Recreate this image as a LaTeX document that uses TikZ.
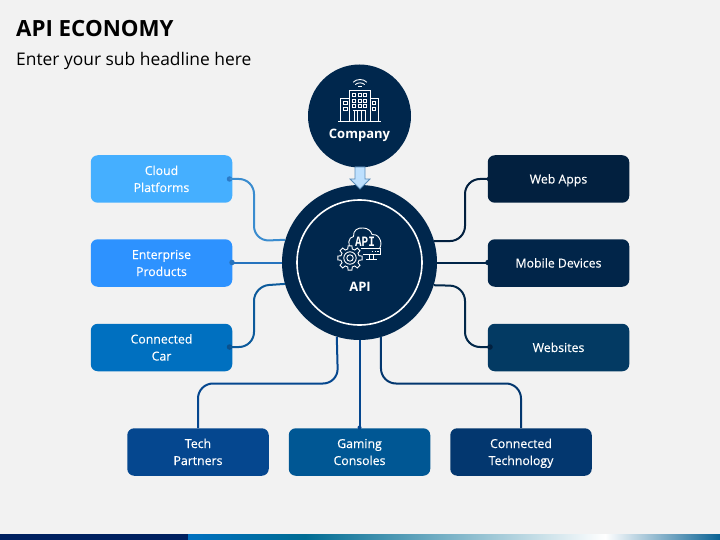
\documentclass[tikz,border=0pt]{standalone}
\usepackage{fontspec}
\setmainfont{Open Sans}
\newfontfamily\monoic{Liberation Mono}
\usetikzlibrary{arrows.meta}
\definecolor{pagebg}{HTML}{F2F2F2}
\definecolor{navy}{HTML}{00274D}
\definecolor{cCloud}{HTML}{45AFFF}
\definecolor{cEnt}{HTML}{2D92FF}
\definecolor{cCar}{HTML}{0070C0}
\definecolor{cTech}{HTML}{05478F}
\definecolor{cGame}{HTML}{005794}
\definecolor{cCT}{HTML}{03376F}
\definecolor{cWeb}{HTML}{02203F}
\definecolor{cMob}{HTML}{012549}
\definecolor{cSite}{HTML}{033A63}
\newcommand{\ls}[1]{\rule{0pt}{12pt}\rule[-3pt]{0pt}{3pt}#1}
\tikzset{
  lab/.style={rounded corners=7pt,minimum width=141.5pt,minimum height=47.5pt,inner sep=0pt,align=center,text=white,font=\fontsize{12.3}{17}\selectfont\addfontfeature{FakeBold=0.35}},
  conn/.style={line width=2pt,rounded corners=15pt},
  dotn/.style={circle,inner sep=0pt,minimum size=5.5pt},
  ico/.style={draw=white,line width=0.9pt},
  win/.style={draw=white,line width=0.7pt},
}
\begin{document}
\begin{tikzpicture}[x=1pt,y=-1pt]
\useasboundingbox (0,0) rectangle (720,540);
\fill[pagebg] (0,0) rectangle (720,540);
% footer
\fill[color={rgb,255:red,0;green,32;blue,96}] (0,534) rectangle (188,540);
\shade[left color=cCar,right color={rgb:red,0;green,176;blue,240}] (188,534) rectangle (305,540);
\shade[left color={rgb:red,0;green,176;blue,240},right color=white] (305,534) rectangle (605,540);
\shade[left color=white,right color={rgb:red,14;green,143;blue,216}] (605,534) rectangle (720,540);
% titles
\node[anchor=west,inner sep=0pt,font=\fontsize{22.3}{26}\selectfont\bfseries,text=black] (title) at (16,29) {API ECONOMY};
\node[anchor=west,inner sep=0pt,font=\fontsize{17.4}{21}\selectfont,text=black] (sub) at (16,61) {Enter your sub headline here};
% circles
\node[circle,fill=navy,minimum size=155pt,inner sep=0pt] (api) at (359.5,262.5) {};
\node[circle,draw=white,line width=1.6pt,minimum size=125pt,inner sep=0pt] (apiin) at (359.5,262.5) {};
\node[circle,fill=navy,minimum size=103pt,inner sep=0pt] (comp) at (359.5,116) {};
\node[anchor=base,inner sep=0pt,text=white,font=\fontsize{13}{15}\selectfont\bfseries] (comptxt) at (359.5,138.5) {Company};
\node[anchor=base,inner sep=0pt,text=white,font=\fontsize{13}{15}\selectfont\bfseries] (apitxt) at (360,291) {API};
% arrow company -> api
\draw[fill={rgb,255:red,189;green,224;blue,254},draw={rgb,255:red,91;green,141;blue,184},line width=0.8pt]
  (355,167) -- (365,167) -- (365,179) -- (370,179) -- (360,189) -- (350,179) -- (355,179) -- cycle;
% boxes
\node[lab,fill=cCloud] (cloud) at (161.5,179) {\ls{Cloud}\\\ls{Platforms}};
\node[lab,fill=cEnt] (ent) at (161.5,263) {\ls{Enterprise}\\\ls{Products}};
\node[lab,fill=cCar] (car) at (161.5,347.5) {\ls{Connected}\\\ls{Car}};
\node[lab,fill=cWeb] (web) at (558.5,179) {\ls{Web Apps}};
\node[lab,fill=cMob] (mob) at (558.5,263) {\ls{Mobile Devices}};
\node[lab,fill=cSite] (site) at (558.5,347.5) {\ls{Websites}};
\node[lab,fill=cTech] (tech) at (198,452) {\ls{Tech}\\\ls{Partners}};
\node[lab,fill=cGame] (game) at (359.5,452) {\ls{Gaming}\\\ls{Consoles}};
\node[lab,fill=cCT] (ctech) at (521,452) {\ls{Connected}\\\ls{Technology}};
% connector dots
\node[dotn,fill={rgb,255:red,42;green,122;blue,200}] (d1) at (229.5,179) {};
\node[dotn,fill={rgb,255:red,38;green,115;blue,190}] (d2) at (232,262.5) {};
\node[dotn,fill={rgb,255:red,10;green,80;blue,140}] (d3) at (229.5,347) {};
\node[dotn,fill=cWeb] (d4) at (489.5,179) {};
\node[dotn,fill=cMob] (d5) at (488,262.5) {};
\node[dotn,fill=cWeb] (d6) at (490,347) {};
\node[dotn,minimum size=4pt,fill=cTech] (d8) at (359.5,427.5) {};
% connectors
\draw[conn,color={rgb,255:red,58;green,140;blue,207}] (d1.center) -- (254,179) -- (254,241) -- (api.163.9);
\draw[conn,color={rgb,255:red,38;green,115;blue,190}] (d2.center) -- (api.west);
\draw[conn,color={rgb,255:red,12;green,90;blue,155}] (d3.center) -- (254,347) -- (254,286) -- (api.196.1);
\draw[conn,color=cWeb] (d4.center) -- (465,179) -- (465,241) -- (api.16.1);
\draw[conn,color=cMob] (d5.center) -- (api.east);
\draw[conn,color=cWeb!70!cSite] (d6.center) -- (465,347) -- (465,286) -- (api.343.9);
\draw[conn,color=cTech] (tech.north) -- (198,383.5) -- (338,383.5) -- (api.253.9);
\draw[conn,color=cTech] (d8.center) -- (api.south);
\draw[conn,color=cCT] (ctech.north) -- (521,383.5) -- (381,383.5) -- (api.286.1);
% building icon
\draw[ico] (338.3,121.3) -- (380.7,121.3);
\draw[ico] (349.3,121.3) -- (349.3,90.3) -- (370,90.3) -- (370,121.3);
\draw[ico] (349.3,98.5) -- (340.3,98.5) -- (340.3,121.3);
\draw[ico] (370,98.5) -- (378.7,98.5) -- (378.7,121.3);
\foreach \wx in {354,359.5,364.8}{\foreach \wy in {94.7,100.7,106}{\draw[win] (\wx-1.5,\wy-1.5) rectangle (\wx+1.5,\wy+1.5);}}
\foreach \wx in {345.4,374}{\foreach \wy in {102.7,108.7}{\draw[win] (\wx-1.6,\wy-1.6) rectangle (\wx+1.6,\wy+1.6);}}
\draw[ico] (353,110.7) -- (366,110.7);
\draw[win] (354,110.7) -- (354,121.3) (357.7,110.7) -- (357.7,121.3) (361.3,110.7) -- (361.3,121.3) (365,110.7) -- (365,121.3);
\draw[ico] (353.2,82.3) .. controls (356,78.6) and (364,78.6) .. (366.8,82.3);
\draw[ico] (355.3,84.6) .. controls (357.5,82.3) and (362.5,82.3) .. (364.7,84.6);
\draw[ico] (358,86.3) -- (362,86.3);
% api icon
\draw[ico] (352,248.7) .. controls (347,246) and (348,237) .. (353.5,236.5)
  .. controls (353,230) and (358,227.5) .. (363,228)
  .. controls (368,228) and (371,231) .. (372,234.5)
  .. controls (377,233) and (384,241) .. (379.5,248.7);
\draw[ico] (361,248.7) -- (380.5,248.7) -- (380.5,254.3) -- (363,254.3);
\draw[win] (371.5,251.4) -- (373,251.4) (374.5,251.4) -- (376,251.4) (377,251.4) -- (378.5,251.4);
\draw[ico] (369.5,254.3) -- (369.5,259) (373.5,254.3) -- (373.5,259) (366,259.3) -- (377,259.3);
\node[inner sep=0pt,text=white,font=\fontsize{11}{12}\monoic\bfseries] (apiic) at (365,241.4) {\scalebox{1}[1.3]{API}};
\begin{scope}[shift={(350,258)}]
\filldraw[fill=navy,ico] (-14:9.3pt) \foreach \a in {0,45,...,315}{ -- (\a-14:9.3pt) -- (\a-9:12.3pt) -- (\a+9:12.3pt) -- (\a+14:9.3pt)} -- cycle;
\draw[ico] (0,0) circle (6.2pt);
\draw[ico] (0,0) circle (3.2pt);
\end{scope}
\end{tikzpicture}
\end{document}
